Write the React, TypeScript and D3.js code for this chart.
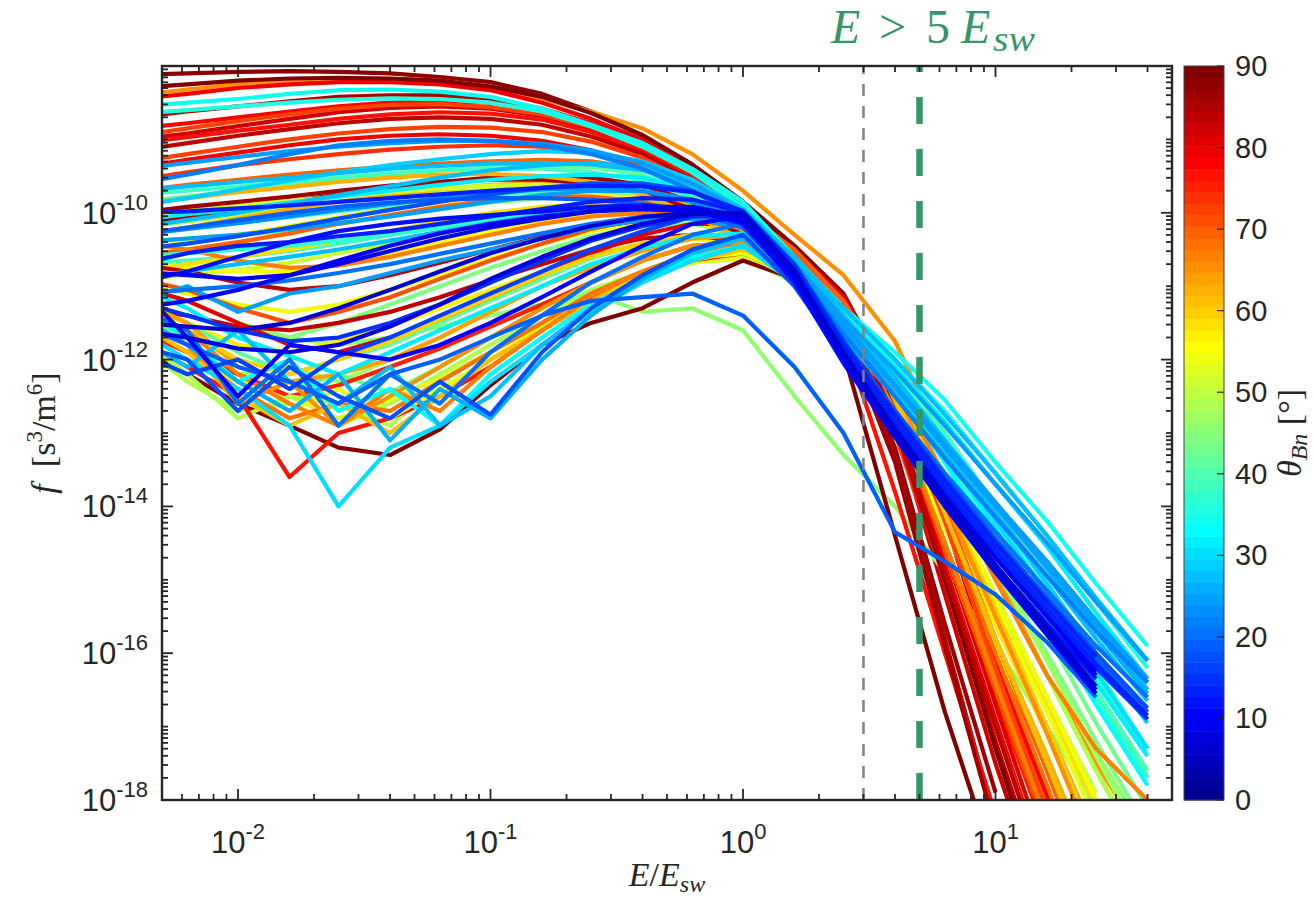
import React from 'react';
import * as d3 from 'd3';

// Energy grid (E / E_sw) shared by all spectra
const energyGrid = [0.004, 0.0063, 0.01, 0.016, 0.025, 0.04, 0.063, 0.1, 0.16, 0.25, 0.4, 0.63, 1, 1.6, 2.5, 4, 6.3, 10, 16, 25, 40];

// log10 f [s^3/m^6] per spectrum; null = no data
const quasiPerpThetas = [88, 66, 80, 85, 78, 82, 76, 84, 72, 79, 74, 87, 62, 70, 58, 83, 75, 89, 77, 68, 64, 81, 71, 60, 86, 63, 73, 90, 69, 65, 61, 67, 84, 67];
const quasiPerpSpectra: (number | null)[][] = [
  [-8.12, -8.10, -8.08, -8.07, -8.08, -8.10, -8.15, -8.22, -8.38, -8.62, -8.95, -9.35, -9.85, -10.45, -11.1, -12.4, -14.2, -16.3, -18.2, -20.0, null],
  [-8.40, -8.32, -8.25, -8.20, -8.18, -8.18, -8.20, -8.28, -8.45, -8.62, -8.85, -9.20, -9.70, -10.30, -10.85, -11.75, -13.2, -14.9, -16.3, -17.5, -18.6],
  [-8.45, -8.38, -8.30, -8.25, -8.22, -8.22, -8.25, -8.33, -8.50, -8.72, -9.00, -9.40, -9.90, -10.50, -11.15, -12.3, -14.0, -16.0, -17.9, -19.8, null],
  [-8.70, -8.62, -8.55, -8.48, -8.42, -8.40, -8.40, -8.45, -8.58, -8.78, -9.05, -9.42, -9.90, -10.50, -11.2, -12.6, -14.8, -17.0, -19.0, null, null],
  [-8.85, -8.78, -8.70, -8.62, -8.55, -8.50, -8.48, -8.50, -8.60, -8.78, -9.05, -9.45, -9.95, -10.55, -11.25, -12.5, -14.2, -16.1, -18.0, -19.9, null],
  [-9.00, -8.92, -8.82, -8.72, -8.63, -8.57, -8.55, -8.58, -8.68, -8.85, -9.10, -9.48, -10.00, -10.62, -11.3, -12.9, -15.2, -17.5, -19.6, null, null],
  [-9.05, -8.97, -8.88, -8.80, -8.72, -8.66, -8.63, -8.65, -8.73, -8.90, -9.15, -9.52, -10.00, -10.60, -11.35, -12.7, -14.5, -16.5, -18.4, null, null],
  [-9.15, -9.05, -8.95, -8.86, -8.78, -8.72, -8.70, -8.72, -8.80, -8.96, -9.20, -9.55, -10.05, -10.65, -11.4, -13.3, -15.8, -18.3, null, null, null],
  [-9.30, -9.20, -9.10, -9.00, -8.92, -8.86, -8.83, -8.84, -8.90, -9.03, -9.25, -9.60, -10.05, -10.65, -11.35, -12.5, -14.1, -15.9, -17.6, -19.3, null],
  [-9.38, -9.28, -9.18, -9.08, -9.00, -8.95, -8.93, -8.95, -9.02, -9.15, -9.35, -9.68, -10.12, -10.72, -11.45, -12.8, -14.8, -16.9, -19.0, null, null],
  [-9.55, -9.45, -9.35, -9.27, -9.20, -9.14, -9.10, -9.08, -9.10, -9.18, -9.35, -9.65, -10.08, -10.70, -11.5, -13.0, -15.0, -17.0, -19.0, null, null],
  [-10.15, -10.05, -9.95, -9.85, -9.75, -9.66, -9.58, -9.52, -9.50, -9.52, -9.62, -9.85, -10.20, -10.75, -11.5, -13.2, -15.6, -17.9, null, null, null],
  [-10.30, -10.20, -10.08, -9.95, -9.85, -9.76, -9.68, -9.62, -9.60, -9.62, -9.72, -9.92, -10.25, -10.80, -11.5, -12.6, -14.0, -15.6, -17.1, -18.6, null],
  [-10.6, -10.5, -10.4, -10.28, -10.15, -10.03, -9.92, -9.83, -9.78, -9.78, -9.85, -10.02, -10.32, -10.85, -11.55, -12.8, -14.5, -16.3, -18.1, null, null],
  [-10.8, -10.7, -10.6, -10.5, -10.38, -10.25, -10.12, -10.00, -9.92, -9.88, -9.92, -10.08, -10.38, -10.90, -11.6, -12.6, -13.9, -15.3, -16.7, -18.1, null],
  [-11.3, -11.4, -11.55, -11.6, -11.5, -11.35, -11.15, -10.92, -10.70, -10.50, -10.35, -10.30, -10.40, -10.80, -11.5, -12.9, -15.0, -17.2, -19.3, null, null],
  [-11.6, -11.9, -12.2, -12.5, -12.35, -12.1, -11.85, -11.55, -11.25, -10.95, -10.65, -10.45, -10.42, -10.75, -11.4, -12.7, -14.6, -16.6, -18.5, null, null],
  [-11.8, -12.2, -12.6, -12.9, -13.2, -13.3, -12.95, -12.35, -11.8, -11.5, -11.3, -10.95, -10.65, -10.9, -11.9, -14.4, -16.8, -18.9, null, null, null],
  [-11.7, -12.1, -12.5, -13.6, -13.0, -12.8, -12.5, -12.1, -11.6, -11.2, -10.9, -10.65, -10.55, -10.85, -11.7, -13.8, -16.0, -18.2, null, null, null],
  [-11.5, -11.9, -12.4, -12.8, -12.6, -12.7, -12.3, -11.9, -11.5, -11.1, -10.8, -10.55, -10.45, -10.70, -11.3, -12.5, -14.2, -16.0, -17.8, -19.6, null],
  [-11.2, -11.5, -12.1, -12.3, -12.2, -12.0, -11.7, -11.35, -11.0, -10.75, -10.52, -10.35, -10.3, -10.62, -11.25, -12.4, -13.9, -15.5, -17.0, -18.5, null],
  [-11.0, -11.2, -11.5, -11.8, -11.9, -11.7, -11.45, -11.15, -10.85, -10.55, -10.30, -10.15, -10.15, -10.55, -11.25, -12.6, -14.6, -16.7, -18.8, null, null],
  [-10.9, -11.05, -11.3, -11.5, -11.35, -11.15, -10.9, -10.65, -10.42, -10.22, -10.08, -10.0, -10.1, -10.55, -11.3, -12.7, -14.6, -16.5, -18.4, null, null],
  [-11.3, -11.6, -12.0, -12.2, -12.0, -11.75, -11.45, -11.15, -10.85, -10.6, -10.42, -10.3, -10.3, -10.65, -11.25, -12.3, -13.8, -15.4, -17.0, -18.6, null],
  [-10.0, -9.92, -9.85, -9.78, -9.70, -9.63, -9.58, -9.55, -9.55, -9.60, -9.72, -9.95, -10.30, -10.85, -11.6, -13.4, -15.9, -18.4, null, null, null],
  [-9.9, -9.8, -9.72, -9.65, -9.58, -9.52, -9.48, -9.47, -9.50, -9.58, -9.75, -10.02, -10.38, -10.88, -11.5, -12.6, -14.1, -15.8, -17.4, -19.0, null],
  [-8.95, -8.85, -8.75, -8.66, -8.58, -8.53, -8.52, -8.56, -8.66, -8.83, -9.08, -9.45, -9.92, -10.50, -11.2, -12.4, -14.2, -16.2, -18.2, null, null],
  [-8.30, -8.25, -8.20, -8.17, -8.16, -8.17, -8.20, -8.28, -8.42, -8.64, -8.94, -9.34, -9.85, -10.48, -11.2, -12.7, -15.0, -17.3, -19.5, null, null],
  [-9.7, -9.62, -9.55, -9.48, -9.42, -9.37, -9.33, -9.3, -9.28, -9.3, -9.4, -9.62, -9.98, -10.5, -11.2, -12.4, -14.0, -15.8, -17.6, -19.4, null],
  [-11.4, -11.8, -12.6, -12.3, -12.9, -12.5, -12.1, -11.7, -11.3, -10.95, -10.65, -10.45, -10.4, -10.7, -11.3, -12.4, -13.9, -15.5, -17.1, -18.7, null],
  [-11.5, -11.9, -12.5, -12.9, -12.6, -13.0, -12.5, -12.0, -11.6, -11.2, -10.9, -10.65, -10.5, -10.75, -11.35, -12.5, -14.1, -15.8, -17.5, -19.2, null],
  [-11.3, -11.6, -12.2, -12.6, -12.9, -12.4, -12.7, -12.1, -11.6, -11.15, -10.8, -10.55, -10.45, -10.72, -11.4, -12.7, -14.5, -16.4, -18.3, null, null],
  [-10.7, -10.8, -10.95, -11.05, -11.0, -10.85, -10.68, -10.5, -10.33, -10.2, -10.1, -10.08, -10.2, -10.6, -11.3, -12.8, -14.9, -17.0, -19.1, null, null],
  [-10.4, -10.5, -10.65, -10.75, -10.72, -10.6, -10.45, -10.3, -10.15, -10.05, -10.0, -10.05, -10.22, -10.65, -11.3, -12.3, -13.6, -15.0, -16.3, -17.3, -18.0],
];

const obliqueThetas = [42, 50, 55, 46, 52, 44, 48, 53, 45, 40, 56, 47, 38, 57, 43, 51, 39, 54, 49, 54, 41];
const obliqueSpectra: (number | null)[][] = [
  [-9.85, -9.78, -9.70, -9.62, -9.55, -9.48, -9.42, -9.38, -9.36, -9.38, -9.48, -9.70, -10.05, -10.55, -11.25, -12.15, -13.2, -14.35, -15.5, -16.6, -17.7],
  [-10.2, -10.12, -10.03, -9.94, -9.85, -9.77, -9.70, -9.65, -9.62, -9.63, -9.72, -9.92, -10.25, -10.78, -11.5, -12.5, -13.8, -15.2, -16.6, -18.0, null],
  [-10.5, -10.4, -10.3, -10.18, -10.06, -9.95, -9.86, -9.78, -9.73, -9.72, -9.78, -9.96, -10.28, -10.82, -11.6, -12.7, -14.1, -15.6, -17.1, -18.6, null],
  [-10.4, -10.35, -10.3, -10.25, -10.15, -10.05, -9.95, -9.86, -9.80, -9.78, -9.84, -10.0, -10.3, -10.8, -11.5, -12.45, -13.6, -14.85, -16.1, -17.35, -18.5],
  [-10.9, -10.85, -10.78, -10.68, -10.55, -10.42, -10.28, -10.15, -10.05, -9.98, -9.98, -10.1, -10.38, -10.9, -11.65, -12.7, -14.0, -15.4, -16.8, -18.2, null],
  [-11.2, -11.4, -11.6, -11.7, -11.5, -11.25, -11.0, -10.75, -10.52, -10.32, -10.18, -10.15, -10.3, -10.78, -11.5, -12.45, -13.6, -14.8, -16.0, -17.2, -18.4],
  [-11.8, -12.3, -12.7, -12.6, -12.9, -12.6, -12.2, -11.8, -11.4, -11.05, -10.8, -10.62, -10.6, -10.95, -11.6, -12.55, -13.75, -15.0, -16.3, -17.6, -18.8],
  [-11.6, -12.0, -12.3, -12.5, -12.8, -12.55, -12.25, -11.9, -11.5, -11.15, -10.88, -10.68, -10.62, -10.92, -11.55, -12.6, -13.9, -15.3, -16.7, -18.1, null],
  [-11.0, -11.2, -11.5, -11.7, -11.8, -11.7, -11.55, -11.4, -11.25, -11.1, -11.35, -11.3, -11.6, -12.5, -13.3, -14.0, -14.9, -15.9, -17.0, -18.1, null],
  [-10.3, -10.22, -10.14, -10.06, -9.98, -9.9, -9.83, -9.77, -9.72, -9.70, -9.74, -9.9, -10.2, -10.7, -11.35, -12.2, -13.2, -14.3, -15.4, -16.5, -17.6],
  [-10.7, -10.75, -10.8, -10.8, -10.7, -10.55, -10.4, -10.25, -10.12, -10.02, -10.0, -10.1, -10.35, -10.85, -11.6, -12.8, -14.3, -15.9, -17.5, -19.1, null],
  [-11.5, -11.9, -12.2, -12.1, -12.3, -12.0, -11.7, -11.35, -11.0, -10.7, -10.48, -10.35, -10.35, -10.75, -11.45, -12.4, -13.55, -14.8, -16.1, -17.4, -18.7],
  [-10.7, -10.65, -10.6, -10.52, -10.42, -10.3, -10.18, -10.06, -9.96, -9.88, -9.86, -9.95, -10.2, -10.68, -11.35, -12.15, -13.1, -14.15, -15.2, -16.3, -17.4],
  [-11.3, -11.5, -11.8, -11.9, -11.75, -11.55, -11.3, -11.05, -10.8, -10.58, -10.42, -10.35, -10.42, -10.85, -11.55, -12.7, -14.1, -15.6, -17.1, -18.6, null],
  [-11.4, -11.7, -12.0, -12.4, -12.2, -12.45, -12.1, -11.7, -11.3, -10.95, -10.65, -10.45, -10.4, -10.75, -11.4, -12.3, -13.4, -14.55, -15.75, -16.95, -18.1],
  [-10.0, -9.95, -9.9, -9.84, -9.78, -9.72, -9.67, -9.63, -9.62, -9.65, -9.75, -9.95, -10.3, -10.85, -11.6, -12.6, -13.9, -15.25, -16.6, -17.9, null],
  [-9.75, -9.7, -9.64, -9.58, -9.52, -9.46, -9.42, -9.4, -9.4, -9.45, -9.56, -9.78, -10.1, -10.6, -11.25, -12.05, -13.0, -14.0, -15.1, -16.2, -17.3],
  [-11.0, -11.1, -11.25, -11.35, -11.25, -11.05, -10.85, -10.62, -10.42, -10.25, -10.12, -10.08, -10.2, -10.7, -11.45, -12.5, -13.8, -15.2, -16.6, -18.0, null],
  [-11.7, -12.2, -12.8, -12.5, -12.6, -12.9, -12.3, -11.9, -11.5, -11.1, -10.82, -10.6, -10.55, -10.9, -11.55, -12.5, -13.7, -15.0, -16.3, -17.6, -18.9],
  [-11.4, -11.8, -12.3, -12.7, -12.4, -12.8, -12.4, -12.0, -11.55, -11.15, -10.85, -10.62, -10.55, -10.85, -11.5, -12.55, -13.9, -15.35, -16.8, -18.3, null],
  [-11.2, -11.5, -11.9, -12.2, -12.0, -11.8, -11.5, -11.2, -10.9, -10.62, -10.42, -10.3, -10.32, -10.8, -11.45, -12.3, -13.3, -14.4, -15.5, -16.6, -17.7],
];

const quasiParThetas = [34, 36, 22, 25, 29, 27, 12, 18, 10, 20, 30, 26, 15, 8, 14, 24, 31, 28, 19, 27, 16, 21, 31, 23, 11, 17, 37, 13, 25, 9, 6, 19, 33, 27];
const quasiParSpectra: (number | null)[][] = [
  [-8.55, -8.50, -8.45, -8.38, -8.33, -8.32, -8.35, -8.42, -8.58, -8.80, -9.05, -9.40, -9.85, -10.6, -11.3, -11.9, -12.55, -13.4, -14.2, -15.05, -15.9],
  [-8.65, -8.6, -8.55, -8.5, -8.46, -8.44, -8.45, -8.5, -8.62, -8.82, -9.1, -9.45, -9.92, -10.65, -11.35, -12.0, -12.7, -13.55, -14.4, -15.3, -16.2],
  [-9.6, -9.48, -9.35, -9.2, -9.08, -9.02, -9.0, -9.02, -9.08, -9.2, -9.4, -9.7, -10.1, -10.75, -11.65, -12.5, -13.35, -14.15, -14.95, -15.7, -16.4],
  [-9.4, -9.32, -9.24, -9.16, -9.1, -9.05, -9.02, -9.02, -9.06, -9.15, -9.32, -9.6, -10.0, -10.7, -11.45, -12.15, -12.9, -13.7, -14.5, -15.3, -16.1],
  [-9.9, -9.8, -9.68, -9.56, -9.45, -9.35, -9.27, -9.2, -9.16, -9.18, -9.3, -9.55, -9.95, -10.7, -11.45, -12.25, -13.15, -14.1, -15.05, -16.0, -16.95],
  [-10.2, -10.1, -10.0, -9.88, -9.76, -9.64, -9.52, -9.42, -9.35, -9.32, -9.38, -9.6, -9.98, -10.6, -11.4, -12.25, -13.1, -13.95, -14.8, -15.65, -16.5],
  [-10.95, -10.8, -10.6, -10.4, -10.25, -10.15, -10.08, -10.03, -9.98, -9.92, -9.9, -9.95, -10.15, -10.95, -12.05, -13.05, -13.95, -14.8, -15.6, -16.35, null],
  [-10.5, -10.42, -10.32, -10.2, -10.08, -9.96, -9.85, -9.75, -9.66, -9.6, -9.6, -9.7, -10.0, -10.75, -11.75, -12.7, -13.6, -14.45, -15.25, -16.0, -16.75],
  [-11.0, -11.7, -12.5, -11.8, -11.9, -12.0, -11.8, -11.5, -11.15, -10.8, -10.45, -10.15, -10.05, -10.85, -11.95, -12.95, -13.85, -14.7, -15.5, -16.25, null],
  [-11.3, -11.6, -12.6, -12.0, -12.9, -12.2, -12.6, -11.9, -11.4, -10.95, -10.6, -10.3, -10.15, -10.85, -11.8, -12.7, -13.55, -14.35, -15.15, -15.9, -16.6],
  [-11.6, -12.0, -12.4, -12.9, -14.0, -13.2, -12.9, -12.3, -11.8, -11.35, -10.95, -10.65, -10.45, -10.95, -11.55, -12.3, -13.2, -14.2, -15.2, -16.25, -17.3],
  [-11.4, -11.8, -12.3, -12.7, -12.2, -13.1, -12.4, -12.8, -12.0, -11.4, -10.9, -10.5, -10.3, -10.85, -11.6, -12.4, -13.2, -14.0, -14.85, -15.7, -16.55],
  [-11.2, -11.4, -11.6, -11.75, -11.7, -11.5, -11.25, -10.95, -10.65, -10.38, -10.18, -10.05, -10.05, -10.8, -11.9, -12.9, -13.8, -14.65, -15.45, -16.2, -16.9],
  [-11.6, -11.7, -11.85, -11.9, -11.8, -11.55, -11.25, -10.9, -10.6, -10.35, -10.15, -10.02, -10.0, -10.8, -11.95, -13.0, -13.95, -14.85, -15.7, -16.5, null],
  [-10.7, -10.55, -10.45, -10.4, -10.32, -10.25, -10.15, -10.05, -9.95, -9.85, -9.8, -9.82, -10.0, -10.75, -11.8, -12.75, -13.65, -14.5, -15.3, -16.05, null],
  [-10.4, -10.35, -10.3, -10.22, -10.14, -10.05, -9.95, -9.85, -9.76, -9.7, -9.7, -9.82, -10.1, -10.7, -11.5, -12.35, -13.2, -14.0, -14.8, -15.6, -16.4],
  [-10.1, -10.02, -9.95, -9.86, -9.78, -9.7, -9.62, -9.55, -9.5, -9.48, -9.52, -9.68, -9.98, -10.7, -11.4, -12.1, -12.85, -13.7, -14.55, -15.45, -16.35],
  [-10.9, -10.8, -10.7, -10.6, -10.5, -10.38, -10.26, -10.14, -10.03, -9.95, -9.92, -9.98, -10.2, -10.8, -11.55, -12.35, -13.15, -13.95, -14.8, -15.65, -16.5],
  [-11.5, -11.8, -12.1, -12.3, -12.6, -12.2, -12.0, -11.7, -11.4, -11.2, -11.15, -11.1, -11.4, -12.1, -13.0, -14.35, -14.75, -15.2, -15.85, -16.6, null],
  [-9.7, -9.64, -9.58, -9.52, -9.46, -9.4, -9.36, -9.33, -9.32, -9.34, -9.42, -9.62, -9.95, -10.62, -11.3, -12.0, -12.75, -13.55, -14.4, -15.25, -16.1],
  [-11.9, -12.2, -12.0, -12.4, -11.95, -11.7, -11.4, -11.1, -10.8, -10.5, -10.25, -10.05, -9.98, -10.7, -11.75, -12.75, -13.7, -14.6, -15.4, -16.2, null],
  [-11.1, -11.05, -11.0, -10.92, -10.82, -10.7, -10.56, -10.42, -10.28, -10.15, -10.05, -10.02, -10.12, -10.85, -11.85, -12.8, -13.65, -14.45, -15.25, -16.05, -16.8],
  [-11.0, -11.3, -11.7, -11.95, -12.2, -11.9, -11.6, -11.3, -11.0, -10.7, -10.48, -10.32, -10.28, -10.85, -11.5, -12.3, -13.25, -14.3, -15.35, -16.4, -17.4],
  [-10.3, -10.22, -10.14, -10.05, -9.96, -9.88, -9.8, -9.73, -9.68, -9.66, -9.7, -9.85, -10.15, -10.85, -11.8, -12.7, -13.55, -14.35, -15.15, -15.95, null],
  [-11.3, -11.2, -11.05, -10.85, -10.65, -10.45, -10.28, -10.15, -10.05, -9.98, -9.95, -9.98, -10.12, -10.9, -12.0, -13.05, -14.0, -14.9, -15.75, -16.55, null],
  [-11.8, -12.0, -12.7, -12.1, -12.5, -12.8, -12.3, -12.75, -11.9, -11.3, -10.85, -10.5, -10.3, -11.0, -11.95, -12.85, -13.7, -14.55, -15.35, -16.15, -16.9],
  [-10.6, -10.55, -10.5, -10.45, -10.38, -10.3, -10.2, -10.1, -10.0, -9.93, -9.9, -9.98, -10.2, -10.8, -11.45, -12.3, -13.3, -14.4, -15.5, -16.6, -17.7],
  [-10.0, -9.98, -9.94, -9.9, -9.85, -9.8, -9.75, -9.7, -9.66, -9.63, -9.64, -9.72, -9.98, -10.75, -11.85, -12.85, -13.75, -14.6, -15.4, -16.15, -16.85],
  [-11.2, -11.0, -11.35, -11.1, -11.0, -10.82, -10.65, -10.5, -10.35, -10.2, -10.1, -10.08, -10.2, -10.8, -11.55, -12.35, -13.15, -13.95, -14.75, -15.55, -16.35],
  [-10.8, -10.85, -10.9, -10.85, -10.7, -10.52, -10.35, -10.2, -10.08, -9.98, -9.92, -9.92, -10.05, -10.85, -11.95, -12.95, -13.85, -14.7, -15.5, -16.3, null],
  [-11.5, -11.55, -11.6, -11.5, -11.3, -11.05, -10.8, -10.55, -10.35, -10.18, -10.06, -10.0, -10.02, -10.8, -11.9, -12.95, -13.9, -14.8, -15.65, -16.45, null],
  [-10.3, -10.2, -10.1, -10.0, -9.92, -9.86, -9.82, -9.8, -9.8, -9.82, -9.88, -9.98, -10.2, -10.9, -11.85, -12.8, -13.7, -14.55, -15.35, -16.1, -16.8],
  [-11.3, -11.7, -12.3, -12.0, -12.7, -12.4, -12.9, -12.2, -11.7, -11.25, -10.9, -10.6, -10.45, -10.9, -11.55, -12.4, -13.4, -14.5, -15.6, -16.7, -17.8],
  [-11.7, -12.1, -11.6, -12.3, -12.6, -12.1, -12.9, -12.5, -11.8, -11.3, -10.9, -10.55, -10.35, -10.95, -11.7, -12.5, -13.3, -14.1, -14.95, -15.8, -16.65],
];

const xMajorTicks = [0.01, 0.1, 1, 10];
const xTickExponents = ['-2', '-1', '0', '1'];
const yMajorTicks = [1e-18, 1e-16, 1e-14, 1e-12, 1e-10];
const yTickExponents = ['-18', '-16', '-14', '-12', '-10'];
const colorbarTicks = [0, 10, 20, 30, 40, 50, 60, 70, 80, 90];
const refLineGray = 3; // E/E_sw
const refLineGreen = 5; // E/E_sw

// MATLAB jet(64)
function jetMap(m: number): string[] {
  const n = Math.ceil(m / 4);
  const u: number[] = [];
  for (let i = 1; i <= n; i++) u.push(i / n);
  for (let i = 1; i < n; i++) u.push(1);
  for (let i = n; i >= 1; i--) u.push(i / n);
  const gOff = Math.ceil(n / 2) - (m % 4 === 1 ? 1 : 0);
  const J = Array.from({ length: m }, () => [0, 0, 0]);
  u.forEach((val, k) => {
    const g = gOff + k + 1;
    const r = g + n;
    const b = g - n;
    if (g >= 1 && g <= m) J[g - 1][1] = val;
    if (r >= 1 && r <= m) J[r - 1][0] = val;
    if (b >= 1 && b <= m) J[b - 1][2] = val;
  });
  return J.map(([r, g, b]) => `rgb(${Math.round(r * 255)},${Math.round(g * 255)},${Math.round(b * 255)})`);
}
const JET = jetMap(64);
const thetaColor = (t: number) => JET[Math.max(0, Math.min(63, Math.floor((t / 90) * 64)))];

const TICK_FONT = "'Liberation Sans', Arial, Helvetica, sans-serif";
const SERIF = "'Liberation Serif', 'Times New Roman', serif";
const AX = '#262626';
const GREEN = '#35966a';

export default function App() {
  const W = 1314, H = 904;
  const L = 162, R = 1172, T = 66, B = 800;
  const x = d3.scaleLog().domain([0.005, 50]).range([L, R]);
  const y = d3.scaleLog().domain([1e-18, 1e-8]).range([B, T]);
  const cb = d3.scaleLinear().domain([0, 90]).range([B, T]);
  const cbL = 1184, cbR = 1224;

  const line = d3
    .line<[number, number | null]>()
    .defined((d) => d[1] !== null)
    .x((d) => x(d[0]))
    .y((d) => y(Math.pow(10, d[1] as number)));

  type S = { theta: number; vals: (number | null)[] };
  const A: S[] = quasiPerpSpectra.map((v, i) => ({ theta: quasiPerpThetas[i], vals: v }));
  const Bo: S[] = obliqueSpectra.map((v, i) => ({ theta: obliqueThetas[i], vals: v }));
  const C: S[] = quasiParSpectra.map((v, i) => ({ theta: quasiParThetas[i], vals: v }));
  // oblique and quasi-perpendicular interleaved, quasi-parallel on top (most field-aligned last)
  const order: S[] = [];
  const n1 = Math.max(A.length, Bo.length);
  for (let i = 0; i < n1; i++) {
    if (Bo[i]) order.push(Bo[i]);
    if (A[i]) order.push(A[i]);
  }
  const cSorted = C.map((s, i) => ({ s, i })).sort((a, b) => b.s.theta - a.s.theta || a.i - b.i);
  cSorted.forEach(({ s }) => order.push(s));

  const xMinor: number[] = [];
  for (let e = -3; e <= 1; e++) for (let k = 2; k <= 9; k++) {
    const v = k * Math.pow(10, e);
    if (v >= 0.005 && v <= 50) xMinor.push(v);
  }
  const yMinor: number[] = [];
  for (let e = -18; e <= -9; e++) for (let k = 1; k <= 9; k++) {
    const v = k * Math.pow(10, e);
    if (k === 1 && e % 2 === 0) continue;
    if (v >= 1e-18 && v <= 1e-8) yMinor.push(v);
  }
  const MAJ = 11, MIN = 6;

  return (
    <svg width={W} height={H} style={{ position: 'absolute', left: 0, top: 0, background: '#fff' }}>
      <defs>
        <clipPath id="plotClip">
          <rect x={L} y={T} width={R - L} height={B - T} />
        </clipPath>
      </defs>
      <rect x={0} y={0} width={W} height={H} fill="#fff" />

      <g clipPath="url(#plotClip)">
        {order.map((s, i) => (
          <path
            key={i}
            d={line(energyGrid.map((e, j) => [e, s.vals[j]] as [number, number | null])) || ''}
            fill="none"
            stroke={thetaColor(s.theta)}
            strokeWidth={4.2}
            strokeLinejoin="round"
            strokeLinecap="butt"
          />
        ))}
        <line x1={x(refLineGray)} x2={x(refLineGray)} y1={B} y2={T} stroke="#808080" strokeWidth={2.5} strokeDasharray="12 10" />
        <line x1={x(refLineGreen)} x2={x(refLineGreen)} y1={B} y2={T} stroke={GREEN} strokeWidth={6.5} strokeDasharray="27 25" />
      </g>

      <g stroke={AX} strokeWidth={1.8}>
        {xMajorTicks.map((v, i) => (
          <g key={'xM' + i}>
            <line x1={x(v)} x2={x(v)} y1={B} y2={B - MAJ} />
            <line x1={x(v)} x2={x(v)} y1={T} y2={T + MAJ} />
          </g>
        ))}
        {xMinor.map((v, i) => (
          <g key={'xm' + i}>
            <line x1={x(v)} x2={x(v)} y1={B} y2={B - MIN} />
            <line x1={x(v)} x2={x(v)} y1={T} y2={T + MIN} />
          </g>
        ))}
        {yMajorTicks.map((v, i) => (
          <g key={'yM' + i}>
            <line x1={L} x2={L + MAJ} y1={y(v)} y2={y(v)} />
            <line x1={R} x2={R - MAJ} y1={y(v)} y2={y(v)} />
          </g>
        ))}
        {yMinor.map((v, i) => (
          <g key={'ym' + i}>
            <line x1={L} x2={L + MIN} y1={y(v)} y2={y(v)} />
            <line x1={R} x2={R - MIN} y1={y(v)} y2={y(v)} />
          </g>
        ))}
      </g>
      <rect x={L} y={T} width={R - L} height={B - T} fill="none" stroke={AX} strokeWidth={2.4} />

      <g fill={AX} fontFamily={TICK_FONT}>
        {xMajorTicks.map((v, i) => (
          <text key={'xl' + i} x={x(v)} y={853} textAnchor="middle" fontSize={31}>
            <tspan>10</tspan>
            <tspan dy={-14} fontSize={22}>{xTickExponents[i]}</tspan>
          </text>
        ))}
        {yMajorTicks.map((v, i) => (
          <text key={'yl' + i} x={148} y={y(v) + 11} textAnchor="end" fontSize={31}>
            <tspan>10</tspan>
            <tspan dy={-14} fontSize={22}>{yTickExponents[i]}</tspan>
          </text>
        ))}
      </g>

      <text x={(L + R) / 2} y={886} textAnchor="middle" fontFamily={SERIF} fontSize={34} fill={AX}>
        <tspan fontStyle="italic">E</tspan>
        <tspan>/</tspan>
        <tspan fontStyle="italic">E</tspan>
        <tspan fontStyle="italic" fontSize={24} dy={6}>sw</tspan>
      </text>
      <text transform={`translate(55,${(T + B) / 2}) rotate(-90)`} textAnchor="middle" fontFamily={SERIF} fontSize={34} fill={AX}>
        <tspan fontStyle="italic">f</tspan>
        <tspan>{'\u00a0\u00a0[s'}</tspan>
        <tspan dy={-13} fontSize={23}>3</tspan>
        <tspan dy={13}>/m</tspan>
        <tspan dy={-13} fontSize={23}>6</tspan>
        <tspan dy={13}>]</tspan>
      </text>

      <g>
        {JET.map((c, k) => {
          const v0 = (k * 90) / 64, v1 = ((k + 1) * 90) / 64;
          return <rect key={'cb' + k} x={cbL} y={cb(v1)} width={cbR - cbL} height={cb(v0) - cb(v1) + 0.5} fill={c} />;
        })}
        <rect x={cbL} y={T} width={cbR - cbL} height={B - T} fill="none" stroke="#444" strokeWidth={1} />
        {colorbarTicks.map((v) => (
          <line key={'cbt' + v} x1={cbR} x2={cbR - 7} y1={cb(v)} y2={cb(v)} stroke={AX} strokeWidth={1.2} />
        ))}
        {colorbarTicks.map((v) => (
          <text key={'cbl' + v} x={1235} y={cb(v) + 10} fontFamily={TICK_FONT} fontSize={29} fill={AX}>
            {v}
          </text>
        ))}
        <text transform={`translate(1301,${(T + B) / 2}) rotate(-90)`} textAnchor="middle" fontFamily={SERIF} fontSize={34} fill={AX}>
          <tspan fontStyle="italic">θ</tspan>
          <tspan fontStyle="italic" fontSize={24} dy={6}>Bn</tspan>
          <tspan dy={-6}>{'\u00a0[°]'}</tspan>
        </text>
      </g>

      <g fill={GREEN} fontFamily={SERIF}>
        <text x={831} y={43} fontSize={48} fontStyle="italic">E</text>
        <text x={879} y={43} fontSize={48}>&gt;</text>
        <text x={926} y={43} fontSize={48}>5</text>
        <text x={961} y={43} fontSize={48} fontStyle="italic">E</text>
        <text x={993} y={51} fontSize={35} fontStyle="italic" textLength={42} lengthAdjust="spacingAndGlyphs">sw</text>
      </g>
    </svg>
  );
}
